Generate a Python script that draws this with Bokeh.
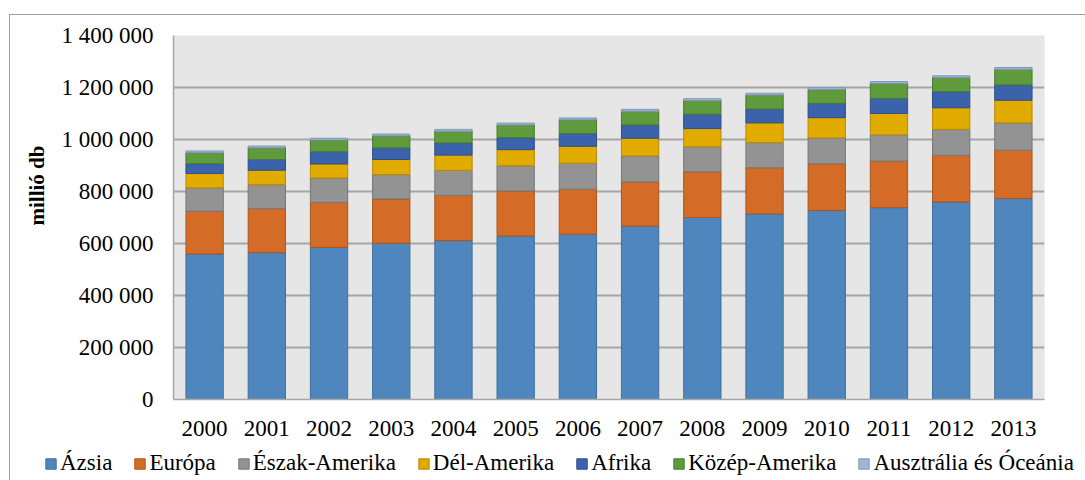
from bokeh.plotting import figure
from bokeh.models import (ColumnDataSource, FactorRange, Range1d, FixedTicker,
                          CustomJSTickFormatter, Legend, LegendItem, Title)
from bokeh.embed import file_html
from bokeh.resources import INLINE

years = ["2000", "2001", "2002", "2003", "2004", "2005", "2006",
         "2007", "2008", "2009", "2010", "2011", "2012", "2013"]

azsia = [560000, 565000, 585000, 601000, 611000, 629000, 636000,
         667000, 700000, 714000, 727000, 738000, 760000, 773000]
europa = [164000, 169000, 173000, 170000, 174000, 173000, 173000,
          170000, 176000, 177000, 180000, 179000, 179000, 186000]
eszak_amerika = [90000, 92000, 94000, 94000, 96000, 97000, 100000,
                 100000, 96000, 97000, 99000, 101000, 100000, 105000]
del_amerika = [55000, 56000, 54000, 58000, 59000, 62000, 65000,
               68000, 70000, 76000, 78000, 82000, 83000, 87000]
afrika = [38000, 41000, 47000, 45000, 47000, 46000, 49000,
          51000, 55000, 53000, 55000, 58000, 62000, 59000]
kozep_amerika = [42000, 45000, 45000, 46000, 45000, 49000, 53000,
                 53000, 53000, 54000, 54000, 58000, 54000, 60000]
ausztralia = [7000, 7000, 7000, 7000, 7000, 7000, 7000,
              7000, 7000, 7000, 7000, 7000, 7000, 7000]

series_labels = ["Ázsia", "Európa", "Észak-Amerika", "Dél-Amerika",
                 "Afrika", "Közép-Amerika", "Ausztrália és Óceánia"]
y_ticks = [0, 200000, 400000, 600000, 800000, 1000000, 1200000, 1400000]
y_title = "millió db"

fills = ["#4F86BD", "#D46C28", "#939393", "#E2AB00", "#3A63AC", "#5F9A3D", "#9DB5D6"]
lines = ["#41709C", "#A9561F", "#777777", "#B88B00", "#2D4F8C", "#4A7A30", "#8499B8"]

keys = ["s0", "s1", "s2", "s3", "s4", "s5", "s6"]
data = dict(year=years)
for k, vals in zip(keys, [azsia, europa, eszak_amerika, del_amerika, afrika,
                          kozep_amerika, ausztralia]):
    data[k] = vals
source = ColumnDataSource(data)

FRAME_LINE = "linear-gradient(#A0A0A0, #A0A0A0)"

# ---- main chart ----
p = figure(x_range=FactorRange(factors=years), y_range=Range1d(0, 1400000),
           width=1085, height=448, output_backend="svg", toolbar_location=None,
           min_border_left=173, min_border_right=41, min_border_top=35,
           min_border_bottom=49)
p.border_fill_alpha = 0
p.styles = {
    "background": (FRAME_LINE + " 9px 14px / 1076px 1px no-repeat, "
                   + FRAME_LINE + " 9px 14px / 1px 434px no-repeat, white"),
}

p.vbar_stack(keys, x="year", width=0.6, source=source,
             fill_color=fills, line_color=lines, line_width=1)

p.background_fill_color = "#E6E6E6"
p.outline_line_color = None

p.xgrid.grid_line_color = None
p.ygrid.grid_line_color = "#A6A6A6"
p.ygrid.grid_line_width = 2
p.yaxis.ticker = FixedTicker(ticks=y_ticks)
p.yaxis.formatter = CustomJSTickFormatter(
    code='return tick.toFixed(0).replace(/\\B(?=(\\d{3})+(?!\\d))/g, " ");')

for ax in (p.xaxis, p.yaxis):
    ax.axis_line_color = "#A6A6A6"
    ax.axis_line_width = 1.5
    ax.major_tick_line_color = None
    ax.minor_tick_line_color = None
    ax.major_tick_in = 0
    ax.major_tick_out = 0
    ax.major_label_text_font = "Liberation Serif"
    ax.major_label_text_font_size = "23px"
    ax.major_label_text_color = "black"
p.yaxis.major_label_standoff = 20
p.xaxis.major_label_standoff = 21

title = Title(text=y_title, align="left", offset=174, standoff=20,
              text_font="Liberation Serif", text_font_size="21px",
              text_font_style="bold", text_color="black")
p.add_layout(title, "left")

# ---- legend strip (separate root, frame = whole canvas) ----
lg = figure(width=1085, height=32, output_backend="svg", toolbar_location=None,
            x_range=Range1d(0, 1), y_range=Range1d(0, 1),
            x_axis_type=None, y_axis_type=None,
            min_border_left=0, min_border_right=0, min_border_top=0,
            min_border_bottom=0)
lg.outline_line_color = None
lg.xgrid.grid_line_color = None
lg.ygrid.grid_line_color = None
lg.background_fill_alpha = 0
lg.border_fill_alpha = 0
lg.styles = {"background": FRAME_LINE + " 9px 0px / 1px 32px no-repeat, white"}

offscreen = ColumnDataSource(dict(x=[5], top=[1]))
legend_renderers = [lg.vbar(x="x", top="top", width=0.1, source=offscreen,
                            fill_color=f, line_color=l, line_width=1)
                    for f, l in zip(fills, lines)]
items = [LegendItem(label=lab, renderers=[r])
         for lab, r in zip(series_labels, legend_renderers)]
legend = Legend(items=items, orientation="horizontal", location=(44, 4),
                padding=0, margin=0, spacing=21, label_standoff=3,
                glyph_width=13, glyph_height=13,
                label_text_font="Liberation Serif", label_text_font_size="23px",
                label_text_color="black",
                border_line_color=None, background_fill_alpha=0)
lg.add_layout(legend, "center")

open("out.html", "w").write(file_html([p, lg], INLINE))
